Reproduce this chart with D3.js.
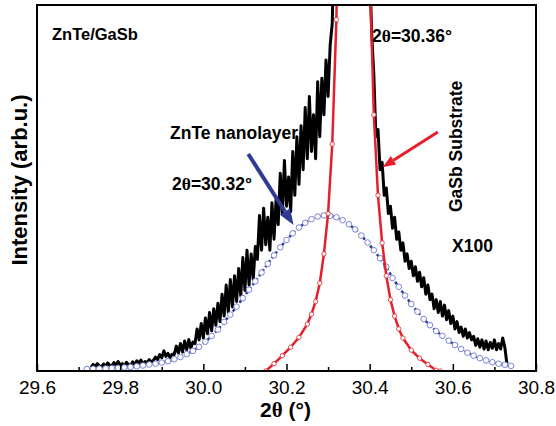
<!DOCTYPE html>
<html>
<head>
<meta charset="utf-8">
<script src="https://cdn.jsdelivr.net/npm/d3@7"></script>
<style>
body { margin: 0; background: #ffffff; }
text { font-family: "Liberation Sans", Arial, sans-serif; }
</style>
</head>
<body>
<svg id="mainSVG"></svg>
<script>
/* ----------data---------- */

// measured XRD scan, 2θ from 29.73 to 30.73 in steps of 0.005
var scanStart = 29.73,
    scanStep = 0.005;
var scanY = [
    1.0, 1.8, 1.2, 2.0, 1.4, 1.1, 1.9, 1.3, 2.2, 1.5,
    1.4, 2.3, 1.6, 2.6, 1.5, 2.0, 1.3, 2.4, 1.8, 1.4,
    2.5, 1.7, 2.8, 2.1, 3.0, 1.8, 2.6, 2.2, 3.1, 2.4,
    2.9, 3.8, 3.1, 4.5, 3.6, 5.5, 4.0, 4.8, 3.7, 4.6,
    4.5, 6.8, 4.9, 7.5, 5.2, 8.2, 5.8, 8.6, 6.2, 7.9,
    7.5, 11.5, 8.5, 13.0, 9.0, 14.5, 10.2, 16.0, 11.0, 17.0,
    12.5, 18.5, 13.5, 21.0, 15.0, 23.5, 16.0, 25.0, 17.5, 26.0,
    19.0, 28.0, 20.5, 31.0, 22.0, 33.0, 23.5, 32.0, 25.0, 34.0,
    30.5, 42.5, 33.0, 44.5, 34.5, 42.0, 33.0, 46.0, 36.0, 47.0,
    40.0, 54.0, 43.0, 57.5, 45.0, 53.0, 43.5, 60.0, 48.0, 64.0,
    51.0, 67.0, 55.0, 72.0, 58.0, 75.0, 60.0, 70.0, 58.0, 79.0,
    64.0, 80.0, 70.0, 85.0, 75.0, 89.0, 95.0, 120, 150, 200,
    260, 350, 450, 600, 800, 1000, 1000, 900, 700, 520, 380, 280, 200, 150,
    110, 92, 81, 64, 66, 55, 57, 48, 50, 43,
    45, 39, 42, 36, 38, 33, 35, 30, 32, 28,
    30, 26, 28.5, 24.5, 27, 23, 25.5, 21, 23.5, 19.5,
    21, 17, 19.5, 16, 19, 15, 18, 14, 16.5, 13,
    15, 11.5, 13.5, 10.5, 12, 9.5, 11.5, 9, 10.5, 8.5,
    9.5, 7, 8.8, 6.5, 8.5, 6, 8.2, 5.8, 7.8, 6.2,
    8.5, 5.8, 7.5, 6.0, 9.0, 6.5, 2.0
];

// GaSb substrate peak fit
var substrateX = [30.15, 30.17, 30.19, 30.21, 30.23, 30.25, 30.26, 30.27, 30.28, 30.29,
    30.30, 30.31, 30.32, 30.33, 30.34, 30.35, 30.36, 30.37, 30.38, 30.39,
    30.40, 30.41, 30.42, 30.43, 30.44, 30.45, 30.46, 30.47, 30.48, 30.50,
    30.52, 30.54, 30.56, 30.57];
var substrateY = [0, 2, 4.2, 6.5, 9.2, 12.8, 15.5, 19, 24, 32,
    43, 62, 96, 170, 400, 800, 1000, 850, 450, 200,
    110, 70, 48, 35, 26, 19.5, 15, 11.5, 9, 5.7,
    3.5, 1.8, 0.2, 0];

// ZnTe nanolayer peak fit, 2θ from 29.72 to 30.74 in steps of 0.015
var layerStart = 29.72,
    layerStep = 0.015;
var layerY = [
    0.57, 0.60, 0.64, 0.69, 0.75, 0.84, 0.95, 1.09, 1.27, 1.50,
    1.78, 2.0, 2.3, 2.7, 3.2, 3.8, 4.6, 5.5, 6.6, 8.0,
    9.6, 11.3, 13.4, 15.4, 17.6, 19.9, 22.2, 24.5, 26.9, 29.3,
    31.6, 33.8, 35.8, 37.6, 39.2, 40.5, 41.5, 42.2, 42.5, 42.4,
    42.0, 41.2, 40.1, 38.7, 37.0, 35.1, 33.0, 30.8, 28.5, 25.4,
    23.0, 20.6, 18.3, 16.2, 14.2, 12.5, 10.9, 9.6, 8.3, 7.1,
    6.0, 5.0, 4.2, 3.5, 2.9, 2.4, 2.0, 1.7, 1.4
];

var xTicks = [29.6, 29.8, 30.0, 30.2, 30.4, 30.6, 30.8];
var xMinorTicks = [29.7, 29.9, 30.1, 30.3, 30.5, 30.7];

/* ----------size---------- */

var mainSVG_WIDTH = 556,
    mainSVG_HEIGHT = 426;
var margin = {top: 5, right: 20, bottom: 55, left: 37};
var plotW = mainSVG_WIDTH - margin.left - margin.right,
    plotH = mainSVG_HEIGHT - margin.top - margin.bottom;

/* ----------colors---------- */

var scanColor = "#000000",
    substrateColor = "#e5202b",
    layerColor = "#2e3a94",
    layerMarkColor = "#7a84d8";

var scanData = scanY.map(function(v, i) {
    return {x: scanStart + i * scanStep, y: v};
});
var substrateData = substrateX.map(function(v, i) { return {x: v, y: substrateY[i]}; });
var layerData = layerY.map(function(v, i) {
    return {x: layerStart + i * layerStep, y: v};
});

var x = d3.scaleLinear().domain([29.6, 30.8]).range([0, plotW]);
var y = d3.scaleLinear().domain([0, 100]).range([plotH, 0]);

var mainSVG = d3.select("#mainSVG")
    .attr("width", mainSVG_WIDTH)
    .attr("height", mainSVG_HEIGHT);

mainSVG.append("defs").append("clipPath")
    .attr("id", "plotClip")
  .append("rect")
    .attr("width", plotW)
    .attr("height", plotH);

var g = mainSVG.append("g")
    .attr("transform", "translate(" + margin.left + "," + margin.top + ")");

var line = d3.line()
    .x(function(d) { return x(d.x); })
    .y(function(d) { return y(d.y); });

var plot = g.append("g").attr("clip-path", "url(#plotClip)");

/* ----------curves---------- */

plot.append("path")
    .datum(scanData)
    .attr("fill", "none")
    .attr("stroke", scanColor)
    .attr("stroke-width", 3)
    .attr("stroke-linejoin", "round")
    .attr("d", line);

plot.append("path")
    .datum(layerData)
    .attr("fill", "none")
    .attr("stroke", layerColor)
    .attr("stroke-width", 2.5)
    .attr("stroke-dasharray", "3,2.5")
    .attr("d", line);

plot.selectAll(".layer-dot")
    .data(layerData)
  .enter().append("circle")
    .attr("class", "layer-dot")
    .attr("cx", function(d) { return x(d.x); })
    .attr("cy", function(d) { return y(d.y); })
    .attr("r", 2.8)
    .attr("fill", "#ffffff")
    .attr("stroke", layerMarkColor)
    .attr("stroke-width", 1);

plot.append("path")
    .datum(substrateData)
    .attr("fill", "none")
    .attr("stroke", substrateColor)
    .attr("stroke-width", 2.5)
    .attr("d", line);

plot.selectAll(".sub-dot")
    .data(substrateData)
  .enter().append("circle")
    .attr("class", "sub-dot")
    .attr("cx", function(d) { return x(d.x); })
    .attr("cy", function(d) { return y(d.y); })
    .attr("r", 2.2)
    .attr("fill", "#ffffff")
    .attr("stroke", substrateColor)
    .attr("stroke-width", 0.8);

/* ----------axes---------- */

var xAxis = g.append("g")
    .attr("transform", "translate(0," + plotH + ")")
    .call(d3.axisBottom(x)
        .tickValues(xTicks)
        .tickSize(-7)
        .tickPadding(10)
        .tickFormat(d3.format(".1f")));
xAxis.select(".domain").remove();
xAxis.selectAll("line").attr("stroke-width", 1.5);
xAxis.selectAll("text")
    .attr("font-size", 19)
    .attr("fill", "#000");

var xMinor = g.append("g")
    .attr("transform", "translate(0," + plotH + ")")
    .call(d3.axisBottom(x)
        .tickValues(xMinorTicks)
        .tickSize(-4)
        .tickFormat(""));
xMinor.select(".domain").remove();
xMinor.selectAll("line").attr("stroke-width", 1.5);

g.append("rect")
    .attr("width", plotW)
    .attr("height", plotH)
    .attr("fill", "none")
    .attr("stroke", "#000")
    .attr("stroke-width", 2);

/* ----------axis titles---------- */

var xTitle = g.append("text")
    .attr("x", plotW / 2 - 1)
    .attr("y", plotH + 46)
    .attr("text-anchor", "middle")
    .attr("font-size", 21)
    .attr("font-weight", "bold");
xTitle.append("tspan").text("2");
xTitle.append("tspan").attr("font-family", "'Liberation Serif', serif").text("θ");
xTitle.append("tspan").text(" (°)");

g.append("text")
    .attr("transform", "translate(" + (-10) + "," + (plotH / 2 - 8) + ") rotate(-90)")
    .attr("text-anchor", "middle")
    .attr("font-size", 22)
    .attr("font-weight", "bold")
    .text("Intensity (arb.u.)");

/* ----------annotations---------- */

function label(px, py, parts, size) {
    var t = mainSVG.append("text")
        .attr("x", px)
        .attr("y", py)
        .attr("font-size", size)
        .attr("font-weight", "bold");
    parts.forEach(function(p) {
        var s = t.append("tspan").text(p);
        if (p == "θ") s.attr("font-family", "'Liberation Serif', serif");
    });
    return t;
}

label(52, 40, ["ZnTe/GaSb"], 16.5);
label(372, 42, ["2", "θ", "=30.36°"], 17.5);
label(170, 139, ["ZnTe nanolayer"], 17.5);
label(172, 190, ["2", "θ", "=30.32°"], 17.5);
label(452, 252, ["X100"], 17.5);

mainSVG.append("text")
    .attr("transform", "translate(462,212) rotate(-90)")
    .attr("font-size", 17.5)
    .attr("font-weight", "bold")
    .text("GaSb Substrate");

function arrow(x0, y0, x1, y1, color, w, headLen, headW) {
    var p0 = [x(x0) + margin.left, y(y0) + margin.top],
        p1 = [x(x1) + margin.left, y(y1) + margin.top];
    var ang = Math.atan2(p1[1] - p0[1], p1[0] - p0[0]);
    var bx = p1[0] - headLen * Math.cos(ang),
        by = p1[1] - headLen * Math.sin(ang);
    mainSVG.append("line")
        .attr("x1", p0[0]).attr("y1", p0[1])
        .attr("x2", bx).attr("y2", by)
        .attr("stroke", color)
        .attr("stroke-width", w);
    var nx = -Math.sin(ang) * headW / 2,
        ny = Math.cos(ang) * headW / 2;
    mainSVG.append("polygon")
        .attr("points", [p1, [bx + nx, by + ny], [bx - nx, by - ny]].map(function(p) {
            return p.join(",");
        }).join(" "))
        .attr("fill", color);
}

arrow(30.108, 59.3, 30.217, 39.9, layerColor, 4, 16, 12);
arrow(30.564, 65.3, 30.431, 55.7, substrateColor, 3, 13, 10);
</script>
</body>
</html>
